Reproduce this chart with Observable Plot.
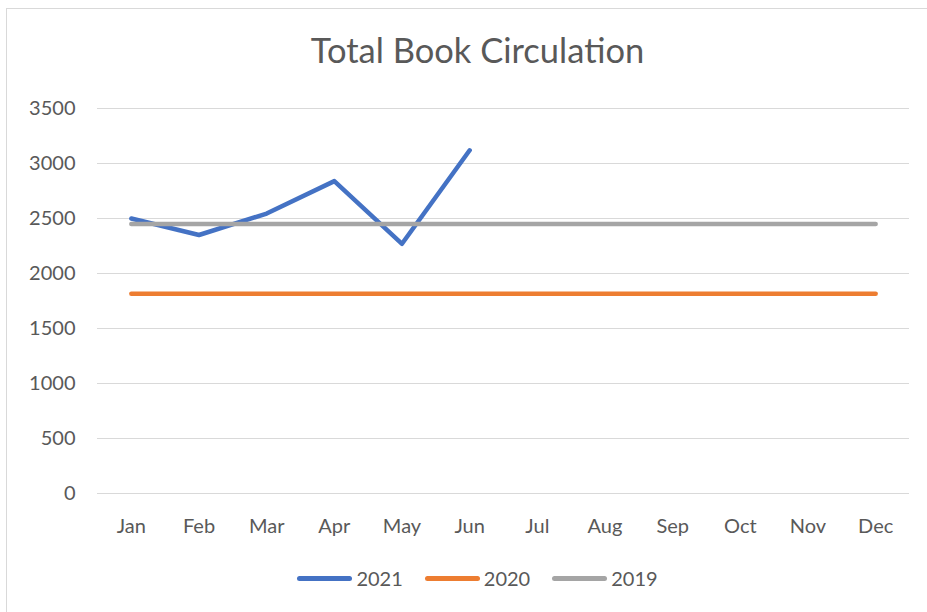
<!DOCTYPE html>
<html>
<head>
<meta charset="utf-8">
<script src="https://cdn.jsdelivr.net/npm/d3@7"></script>
<script src="https://cdn.jsdelivr.net/npm/@observablehq/plot@0.6"></script>
<style>
  html, body { margin: 0; padding: 0; background: #fff; overflow: hidden; }
  #wrap { position: relative; width: 927px; height: 612px; overflow: hidden; background: #fff; font-family: Lato, "Open Sans", sans-serif; color: #595959; }
  #frame { position: absolute; left: 6px; top: 8px; width: 960px; height: 640px; border: 1px solid #d9d9d9; box-sizing: border-box; }
  #title { position: absolute; left: 0; width: 955px; top: 33px; text-align: center; font-size: 34.5px; line-height: 34px; color: #595959; }
  #chart { position: absolute; left: 0; top: 0; }
  #legend { position: absolute; left: 0; width: 955px; top: 566px; display: flex; justify-content: center; align-items: center; font-size: 20px; line-height: 24px; color: #595959; }
  .item { display: flex; align-items: center; margin: 0 11px; }
  .swatch { width: 55px; height: 5px; border-radius: 3px; margin-right: 4px; }
</style>
</head>
<body>
<div id="wrap">
  <div id="frame"></div>
  <div id="chart"></div>
  <div id="title">Total Book Circulation</div>
  <div id="legend"></div>
</div>
<script>
const months = ["Jan","Feb","Mar","Apr","May","Jun","Jul","Aug","Sep","Oct","Nov","Dec"];
const seriesNames = ["2021","2020","2019"];
const seriesColors = ["#4472c4","#ed7d31","#a5a5a5"];
const yTicks = [0,500,1000,1500,2000,2500,3000,3500];
const values2021 = [2500, 2350, 2545, 2840, 2270, 3120];
const values2020 = [1815,1815,1815,1815,1815,1815,1815,1815,1815,1815,1815,1815];
const values2019 = [2450,2450,2450,2450,2450,2450,2450,2450,2450,2450,2450,2450];

const rows = [];
[[seriesNames[0], values2021],[seriesNames[1], values2020],[seriesNames[2], values2019]].forEach(([s, vals]) => {
  vals.forEach((v, i) => rows.push({series: s, month: months[i], value: v}));
});

const chart = Plot.plot({
  width: 927,
  height: 612,
  marginLeft: 97,
  marginRight: 18,
  marginTop: 108,
  marginBottom: 119,
  style: {fontFamily: "Lato, 'Open Sans', sans-serif", fontSize: "20px", color: "#595959", background: "transparent", overflow: "visible"},
  x: {type: "point", domain: months, padding: 0.5, round: false, label: null},
  y: {domain: [0, 3500], label: null},
  color: {domain: seriesNames, range: seriesColors},
  marks: [
    Plot.gridY(yTicks, {stroke: "#d9d9d9", strokeOpacity: 1, strokeWidth: 1.2}),
    Plot.axisY(yTicks, {tickSize: 0, tickPadding: 22, fontSize: 20, fill: "#595959", label: null, tickFormat: d => String(d)}),
    Plot.axisX({tickSize: 0, tickPadding: 25, fontSize: 20, fill: "#595959", label: null}),
    Plot.line(rows, {x: "month", y: "value", z: "series", stroke: "series", strokeWidth: 4.5, strokeLinecap: "round", strokeLinejoin: "round"})
  ]
});
document.getElementById("chart").appendChild(chart);

const legend = document.getElementById("legend");
seriesNames.forEach((name, i) => {
  const item = document.createElement("div");
  item.className = "item";
  const sw = document.createElement("div");
  sw.className = "swatch";
  sw.style.background = seriesColors[i];
  const label = document.createElement("span");
  label.textContent = name;
  item.appendChild(sw);
  item.appendChild(label);
  legend.appendChild(item);
});
</script>
</body>
</html>
